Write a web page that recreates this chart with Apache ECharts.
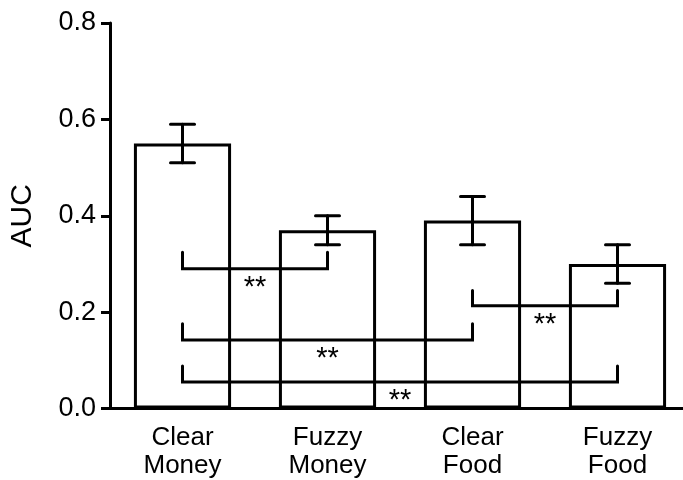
<!DOCTYPE html>
<html>
<head>
<meta charset="utf-8">
<script src="https://cdn.jsdelivr.net/npm/echarts@6/dist/echarts.min.js"></script>
<style>
  html, body { margin: 0; padding: 0; background: #fff; }
  #chart { width: 683px; height: 480px; }
</style>
</head>
<body>
<div id="chart"></div>
<script>
const categories = ['Clear\nMoney', 'Fuzzy\nMoney', 'Clear\nFood', 'Fuzzy\nFood']
const auc = [0.55, 0.37, 0.39, 0.30]
const errLow = [0.51, 0.34, 0.34, 0.26]
const errHigh = [0.59, 0.40, 0.44, 0.34]

// significance brackets (category index from/to, value of the bar, value of the end ticks)
const bracketFrom = [0, 0, 0, 2]
const bracketTo = [1, 2, 3, 3]
const bracketLine = [0.29, 0.142, 0.055, 0.213]
const bracketEnd = [0.324, 0.176, 0.088, 0.245]
const bracketLabel = ['**', '**', '**', '**']

const font = 'Liberation Sans, Arial, sans-serif'
const black = '#000000'

const errData = errLow.map((v, i) => [i, v, errHigh[i]])
const bracketData = bracketFrom.map((f, i) => [f, bracketTo[i], bracketLine[i], bracketEnd[i], bracketLabel[i]])

const option = {
  animation: false,
  grid: { left: 110, top: 23, width: 580, bottom: 71.5, outerBoundsMode: 'none', containLabel: false },
  xAxis: {
    type: 'category',
    data: categories,
    axisLine: { lineStyle: { color: black, width: 3 } },
    axisTick: { alignWithLabel: true, length: 11, lineStyle: { color: black, width: 3 } },
    axisLabel: {
      color: black,
      fontFamily: font,
      fontSize: 26,
      lineHeight: 28,
      margin: 15,
    },
  },
  yAxis: {
    type: 'value',
    min: 0,
    max: 0.8,
    interval: 0.2,
    name: 'AUC',
    nameLocation: 'middle',
    nameGap: 72,
    nameTextStyle: { color: black, fontFamily: font, fontSize: 30 },
    splitLine: { show: false },
    axisLine: { show: true, lineStyle: { color: black, width: 3 } },
    axisTick: { show: true, length: 9, lineStyle: { color: black, width: 3 } },
    axisLabel: {
      color: black,
      fontFamily: font,
      fontSize: 27,
      margin: 14,
      formatter: (v) => v.toFixed(1),
    },
  },
  series: [
    {
      type: 'bar',
      data: auc,
      barWidth: '67%',
      itemStyle: { color: '#ffffff', borderColor: black, borderWidth: 3 },
      z: 2,
    },
    {
      type: 'custom',
      data: errData,
      encode: { x: 0, y: [1, 2] },
      z: 3,
      renderItem: (params, api) => {
        const lo = api.coord([api.value(0), api.value(1)])
        const hi = api.coord([api.value(0), api.value(2)])
        const w = 12
        const st = { stroke: black, lineWidth: 3, lineCap: 'round' }
        return {
          type: 'group',
          children: [
            { type: 'line', shape: { x1: lo[0], y1: lo[1], x2: hi[0], y2: hi[1] }, style: st },
            { type: 'line', shape: { x1: lo[0] - w, y1: lo[1], x2: lo[0] + w, y2: lo[1] }, style: st },
            { type: 'line', shape: { x1: hi[0] - w, y1: hi[1], x2: hi[0] + w, y2: hi[1] }, style: st },
          ],
        }
      },
    },
    {
      type: 'custom',
      data: bracketData,
      encode: { x: [0, 1], y: [2, 3] },
      z: 4,
      renderItem: (params, api) => {
        const a = api.coord([api.value(0), api.value(3)])
        const b = api.coord([api.value(0), api.value(2)])
        const c = api.coord([api.value(1), api.value(2)])
        const d = api.coord([api.value(1), api.value(3)])
        const label = bracketData[params.dataIndex][4]
        return {
          type: 'group',
          children: [
            {
              type: 'polyline',
              shape: { points: [a, b, c, d] },
              style: { stroke: black, lineWidth: 3, fill: null, lineCap: 'round' },
            },
            {
              type: 'text',
              x: (b[0] + c[0]) / 2,
              y: b[1] + 19,
              style: {
                text: label,
                fontFamily: font,
                fontSize: 29,
                align: 'center',
                verticalAlign: 'middle',
                fill: black,
              },
            },
          ],
        }
      },
    },
  ],
}

const chart = echarts.init(document.getElementById('chart'))
chart.setOption(option)
</script>
</body>
</html>
